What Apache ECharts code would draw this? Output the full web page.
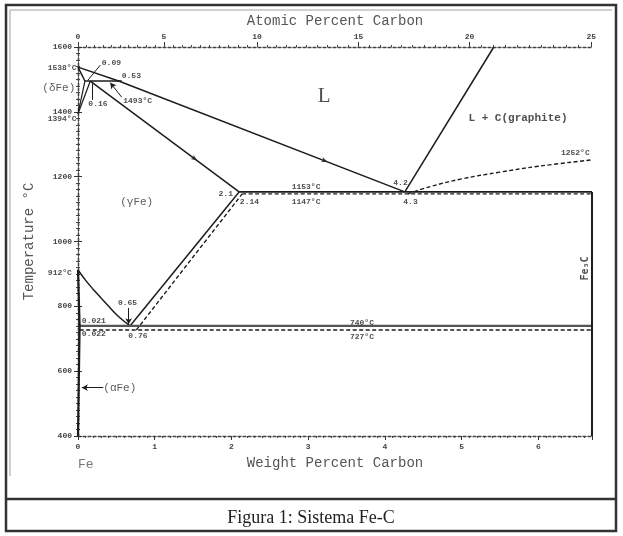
<!DOCTYPE html>
<html><head><meta charset="utf-8">
<script src="https://cdn.jsdelivr.net/npm/echarts@6/dist/echarts.min.js"></script>
<style>html,body{margin:0;padding:0;background:#fff}#c{width:623px;height:536px}</style>
</head><body><div id="c"></div>
<script>
// ---- data (weight % C, temperature °C) ----
const liquidus = [[0,1538],[0.53,1495],[4.26,1153]];
const liquidusGraphite = [[4.26,1153],[5.42,1600]];
const deltaSolidus = [[0,1538],[0.09,1495]];
const peritectic = [[0.09,1495],[0.57,1495]];
const deltaSolvus = [[0.09,1495],[0,1394]];
const gammaDelta = [[0.16,1495],[0,1394]];
const gammaSolidus = [[0.16,1495],[2.1,1153]];
const eutecticStable = [[2.1,1153],[6.7,1153]];
const eutecticMeta = [[2.14,1147],[6.7,1147]];
const acmStable = [[0.68,740],[2.1,1153]];
const acmMeta = [[0.76,727],[2.14,1147]];
const a3Line = [[0,912],[0.1,880],[0.2,852],[0.3,826],[0.4,800],[0.5,775],[0.6,754],[0.68,740]];
const eutectoidStable = [[0.021,740],[6.7,740]];
const eutectoidMeta = [[0.022,727],[6.7,727]];
const alphaSolvus = [[0,912],[0.021,740],[0,400]];
const cementite = [[6.7,1153],[6.7,400]];
const fe3cLiquidus = [[4.3,1147],[4.6,1170],[5.0,1193],[5.5,1214],[6.0,1232],[6.7,1252]];
const flowMarks = [[3.25,1246,-111],[1.55,1250,-127]];

// ---- axis ticks ----
const weightTicks = [0,1,2,3,4,5,6];
const tempTicks = [400,600,800,1000,1200,1400,1600];
const atomicTicks = [0,5,10,15,20,25];
const atomicMinorStep = 0.5;

// ---- annotations [text, wt%, °C, align] ----
const notes = [
  ['1538°C',-0.02,1534,'right'],
  ['0.09',0.31,1550,'left'],
  ['0.53',0.57,1511,'left'],
  ['0.16',0.135,1423,'left'],
  ['1493°C',0.59,1434,'left'],
  ['1394°C',-0.02,1377,'right'],
  ['1252°C',6.67,1272,'right'],
  ['2.1',2.02,1147,'right'],
  ['2.14',2.11,1123,'left'],
  ['1153°C',2.785,1167,'left'],
  ['1147°C',2.785,1123,'left'],
  ['4.2',4.11,1180,'left'],
  ['4.3',4.24,1123,'left'],
  ['912°C',-0.08,904,'right'],
  ['0.65',0.645,811,'center'],
  ['0.021',0.05,756,'left'],
  ['0.022',0.05,715,'left'],
  ['0.76',0.656,709,'left'],
  ['740°C',3.545,748,'left'],
  ['727°C',3.545,706,'left']
];
const phaseNotes = [
  ['(δFe)',-0.25,1473,'center'],
  ['(γFe)',0.765,1123,'center'],
  ['(αFe)',0.33,549,'left'],
  ['Fe',0,311,'left']
];
const leaders = [
  [[0.29,1544],[0.13,1498],false],
  [[0.18,1488],[0.18,1437],false],
  [[0.57,1445],[0.42,1490],true],
  [[0.66,795],[0.66,745],true],
  [[0.33,549],[0.05,549],true]
];

function atToWt(a){ const c=a*12.011, f=(100-a)*55.845; return 100*c/(c+f); }
const atomicMinor=[]; for(let a=0;a<=25+1e-9;a+=atomicMinorStep) atomicMinor.push(atToWt(a));
const atomicWt = atomicTicks.map(atToWt);

const INK='#1c1c1c', MONO='Liberation Mono, DejaVu Sans Mono, monospace';
const axisLineStyle={color:'#444',width:1.3,type:[3,2]};
function solid(d,extra){return Object.assign({type:'line',data:d,showSymbol:false,silent:true,
  lineStyle:{color:INK,width:1.5},z:3},extra||{});}
function dashed(d,extra){return solid(d,Object.assign({lineStyle:{color:INK,width:1.4,type:[4,2.5]}},extra||{}));}
const plain=v=>String(v);

const chart=echarts.init(document.getElementById('c'),null,{renderer:'canvas'});
const option={
  animation:false,
  backgroundColor:'#fff',
  grid:{left:78,right:31,top:47,bottom:100},
  xAxis:[
    {type:'value',min:0,max:6.7,interval:1,position:'bottom',
     name:'Weight Percent Carbon',nameLocation:'middle',nameGap:20,
     nameTextStyle:{fontFamily:MONO,fontSize:14,color:'#555'},
     axisLine:{lineStyle:axisLineStyle},
     axisTick:{length:4,lineStyle:{color:'#333',width:1}},
     minorTick:{show:true,splitNumber:10,length:2,lineStyle:{color:'#444'}},
     axisLabel:{fontFamily:MONO,fontSize:8,fontWeight:'bold',color:'#444',margin:7,showMaxLabel:false,formatter:plain},
     splitLine:{show:false}},
    {type:'value',min:0,max:6.7,position:'top',
     name:'Atomic Percent Carbon',nameLocation:'middle',nameGap:19,
     nameTextStyle:{fontFamily:MONO,fontSize:14,color:'#555'},
     axisLine:{lineStyle:axisLineStyle},
     axisTick:{customValues:atomicWt,length:5,lineStyle:{color:'#333',width:1}},
     axisLabel:{customValues:atomicWt,fontFamily:MONO,fontSize:8,fontWeight:'bold',color:'#444',margin:6,
       formatter:function(v){let bi=0,bd=1e9;atomicWt.forEach((w,i)=>{const d=Math.abs(w-v);if(d<bd){bd=d;bi=i;}});return String(atomicTicks[bi]);}},
     splitLine:{show:false}},
    {type:'value',min:0,max:6.7,position:'top',
     axisLine:{show:false},
     axisTick:{customValues:atomicMinor,length:2,lineStyle:{color:'#444',width:1}},
     axisLabel:{show:false},splitLine:{show:false}}
  ],
  yAxis:[
    {type:'value',min:400,max:1600,interval:200,position:'left',
     name:'Temperature °C',nameLocation:'middle',nameGap:42,nameRotate:90,
     nameTextStyle:{fontFamily:MONO,fontSize:14,color:'#555'},
     axisLine:{show:true,lineStyle:axisLineStyle},
     axisTick:{show:true,length:4,lineStyle:{color:'#333'}},
     minorTick:{show:true,splitNumber:10,length:2,lineStyle:{color:'#444'}},
     axisLabel:{fontFamily:MONO,fontSize:8,fontWeight:'bold',color:'#444',margin:6,formatter:plain},
     splitLine:{show:false}},
    {type:'value',min:400,max:1600,interval:200,position:'right',
     axisLine:{show:true,lineStyle:axisLineStyle},
     axisTick:{show:true,length:4,lineStyle:{color:'#333'}},
     minorTick:{show:true,splitNumber:10,length:2,lineStyle:{color:'#444'}},
     axisLabel:{show:false},splitLine:{show:false}}
  ],
  series:[
    solid(liquidus),solid(liquidusGraphite),solid(deltaSolidus),solid(peritectic),
    solid(deltaSolvus,{lineStyle:{color:INK,width:1.2}}),solid(gammaDelta,{lineStyle:{color:INK,width:1.2}}),
    solid(gammaSolidus),solid(eutecticStable,{lineStyle:{color:INK,width:1.8}}),dashed(eutecticMeta),
    solid(acmStable),dashed(acmMeta),solid(a3Line,{smooth:0.4}),
    solid(eutectoidStable,{lineStyle:{color:'#555',width:2.2}}),dashed(eutectoidMeta),
    solid(alphaSolvus,{lineStyle:{color:INK,width:2.2}}),solid(cementite,{lineStyle:{color:INK,width:2}}),
    dashed(fe3cLiquidus,{smooth:0.4}),
    {type:'scatter',silent:true,z:4,symbol:'arrow',symbolSize:[4,6],itemStyle:{color:INK},
     data:flowMarks.map(m=>({value:[m[0],m[1]],symbolRotate:m[2]}))},
    {type:'scatter',silent:true,clip:false,z:5,symbolSize:0,
     label:{show:true,position:'inside',fontFamily:MONO,fontSize:8,fontWeight:'bold',color:'#222',
       formatter:p=>p.name,verticalAlign:'middle'},
     data:notes.map(n=>({name:n[0],value:[n[1],n[2]],label:{align:n[3]}}))},
    {type:'scatter',silent:true,clip:false,z:5,symbolSize:0,
     label:{show:true,position:'inside',fontFamily:MONO,fontSize:11,color:'#333',
       formatter:p=>p.name,verticalAlign:'middle'},
     data:phaseNotes.map(n=>({name:n[0],value:[n[1],n[2]],label:{align:n[3],fontSize:n[0]==='Fe'?13:11,color:n[0]==='Fe'?'#555':'#333'}}))},
    {type:'scatter',silent:true,clip:false,z:5,symbolSize:0,
     data:[
       {name:'L',value:[3.21,1447],label:{fontFamily:'Liberation Serif, serif',fontSize:21,color:'#222'}},
       {name:'L + C(graphite)',value:[5.735,1380],label:{fontFamily:MONO,fontSize:11,fontWeight:'bold',color:'#222'}},
       {name:'Fe₃C',value:[6.61,917],label:{fontFamily:'DejaVu Sans Mono, monospace',fontSize:10,fontWeight:'bold',color:'#222',rotate:90}}
     ],
     label:{show:true,position:'inside',formatter:p=>p.name,align:'center',verticalAlign:'middle'}},
    {type:'line',data:[],silent:true,
     markLine:{silent:true,animation:false,symbolSize:[5,6],
       lineStyle:{color:INK,width:1,type:'solid'},label:{show:false},
       data:leaders.map(l=>[{coord:l[0],symbol:'none'},{coord:l[1],symbol:l[2]?'arrow':'none'}])}}
  ],
  graphic:[
    {type:'rect',shape:{x:6,y:5,width:610,height:526},style:{fill:'none',stroke:'#333',lineWidth:2.5},z:100},
    {type:'polyline',shape:{points:[[10,476],[10,10],[612,10]]},style:{fill:'none',stroke:'#d0d0d0',lineWidth:2},z:90},
    {type:'line',shape:{x1:6,y1:499,x2:616,y2:499},style:{stroke:'#333',lineWidth:2.5},z:100},
    {type:'text',x:311,y:518,style:{text:'Figura 1: Sistema Fe-C',font:'18px "Liberation Serif", serif',fill:'#222',align:'center',verticalAlign:'middle'},z:100}
  ]
};
chart.setOption(option);
</script></body></html>
